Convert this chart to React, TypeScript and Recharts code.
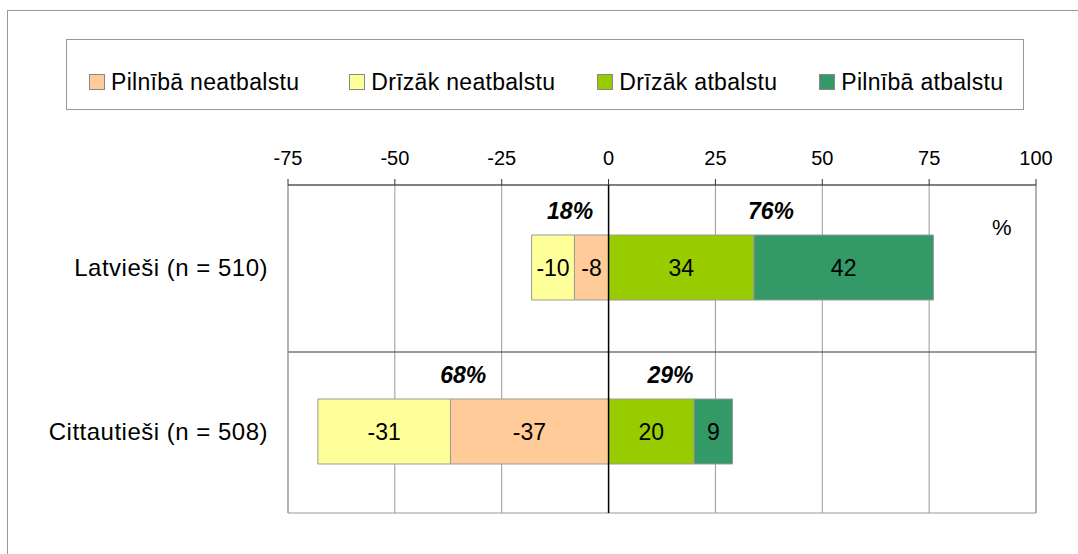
import React from 'react';
import {
  BarChart,
  Bar,
  XAxis,
  YAxis,
  CartesianGrid,
  LabelList,
  ReferenceArea,
  ReferenceLine,
  ReferenceDot,
} from 'recharts';

const categories = ['Latvieši (n = 510)', 'Cittautieši (n = 508)'];
const fullyOppose = [-8, -37];
const ratherOppose = [-10, -31];
const ratherSupport = [34, 20];
const fullySupport = [42, 9];
const xTicks = [-75, -50, -25, 0, 25, 50, 75, 100];

const seriesNames = ['Pilnībā neatbalstu', 'Drīzāk neatbalstu', 'Drīzāk atbalstu', 'Pilnībā atbalstu'];
const seriesKeys = ['fullyOppose', 'ratherOppose', 'ratherSupport', 'fullySupport'];
const seriesColors = ['#FFCC99', '#FFFF99', '#99CC00', '#339966'];

const data = categories.map((name, i) => ({
  name,
  fullyOppose: fullyOppose[i],
  ratherOppose: ratherOppose[i],
  ratherSupport: ratherSupport[i],
  fullySupport: fullySupport[i],
  negTotal: fullyOppose[i] + ratherOppose[i],
  posTotal: ratherSupport[i] + fullySupport[i],
}));

const FONT = '"Liberation Sans", Arial, sans-serif';

// bold italic share above each half of the stack
const TotalLabel = (props: any) => {
  const { viewBox, value } = props;
  if (!viewBox) return null;
  const cx = viewBox.x + viewBox.width / 2;
  const cy = viewBox.y + viewBox.height / 2;
  return (
    <text
      x={cx}
      y={cy - 48}
      textAnchor="middle"
      fontSize={23}
      fontWeight="bold"
      fontStyle="italic"
      fontFamily={FONT}
      fill="#000"
    >
      {value}
    </text>
  );
};

const Legend = () => (
  <div
    style={{
      position: 'absolute',
      left: 66,
      top: 39,
      width: 958,
      height: 71,
      boxSizing: 'border-box',
      border: '1px solid #999',
      background: '#fff',
      display: 'flex',
      alignItems: 'flex-start',
      paddingLeft: 22,
      paddingTop: 29,
      fontSize: 23,
      letterSpacing: 0.3,
      lineHeight: '26px',
      color: '#000',
      whiteSpace: 'nowrap',
      zIndex: 2,
    }}
  >
    {seriesNames.map((n, i) => (
      <div
        key={n}
        style={{ display: 'flex', alignItems: 'center', flexShrink: 0, marginRight: i === 0 ? 50 : 42 }}
      >
        <span
          style={{
            display: 'inline-block',
            flexShrink: 0,
            width: 16,
            height: 16,
            boxSizing: 'border-box',
            background: seriesColors[i],
            border: '1px solid #888',
            marginRight: 6,
          }}
        />
        <span>{n}</span>
      </div>
    ))}
  </div>
);

export default function App() {
  return (
    <div
      style={{
        position: 'absolute',
        left: 0,
        top: 0,
        width: 1078,
        height: 554,
        overflow: 'hidden',
        background: '#fff',
        fontFamily: FONT,
      }}
    >
      <div
        style={{
          position: 'absolute',
          left: 7,
          top: 10,
          width: 1200,
          height: 700,
          border: '1px solid #999',
        }}
      />
      <Legend />
      <div
        style={{ position: 'absolute', left: 992, top: 215, fontSize: 22, color: '#000', zIndex: 2 }}
      >
        %
      </div>
      <div style={{ position: 'absolute', left: 0, top: 0 }}>
        <BarChart
          width={1078}
          height={554}
          data={data}
          layout="vertical"
          stackOffset="sign"
          barSize={65}
          margin={{ top: 155, right: 42, bottom: 41, left: 8 }}
        >
          <ReferenceArea x1={-75} x2={100} fill="none" stroke="#999" strokeWidth={1} />
          <CartesianGrid horizontal={false} stroke="#999" strokeWidth={1} />
          <CartesianGrid
            vertical={false}
            stroke="#333"
            strokeWidth={1}
            horizontalCoordinatesGenerator={({ offset }: any) => [offset.top + offset.height / 2 + 3]}
          />
          <XAxis
            type="number"
            orientation="top"
            domain={[-75, 100]}
            ticks={xTicks}
            height={30}
            tickSize={6}
            tickMargin={14}
            stroke="#333"
            tick={{ fill: '#000', fontSize: 20, fontFamily: FONT }}
            allowDataOverflow
          />
          <YAxis
            type="category"
            dataKey="name"
            width={280}
            tickLine={false}
            axisLine={false}
            tickSize={0}
            tickMargin={20}
            tick={{ fill: '#000', fontSize: 24, fontFamily: FONT, letterSpacing: 0.5 }}
          />
          {seriesKeys.map((k, i) => (
            <Bar
              key={k}
              dataKey={k}
              name={seriesNames[i]}
              stackId="a"
              fill={seriesColors[i]}
              stroke="#999"
              strokeWidth={1}
              isAnimationActive={false}
            >
              <LabelList
                dataKey={k}
                position="center"
                fill="#000"
                fontSize={23}
                fontFamily={FONT}
              />
            </Bar>
          ))}
          <ReferenceLine x={0} stroke="#000" strokeWidth={1.5} />
          {data.map((d) => (
            <ReferenceDot
              key={d.name + '-neg'}
              x={d.negTotal / 2}
              y={d.name}
              r={1}
              fill="none"
              stroke="none"
              label={<TotalLabel value={`${-d.negTotal}%`} />}
            />
          ))}
          {data.map((d) => (
            <ReferenceDot
              key={d.name + '-pos'}
              x={d.posTotal / 2}
              y={d.name}
              r={1}
              fill="none"
              stroke="none"
              label={<TotalLabel value={`${d.posTotal}%`} />}
            />
          ))}
        </BarChart>
      </div>
    </div>
  );
}
